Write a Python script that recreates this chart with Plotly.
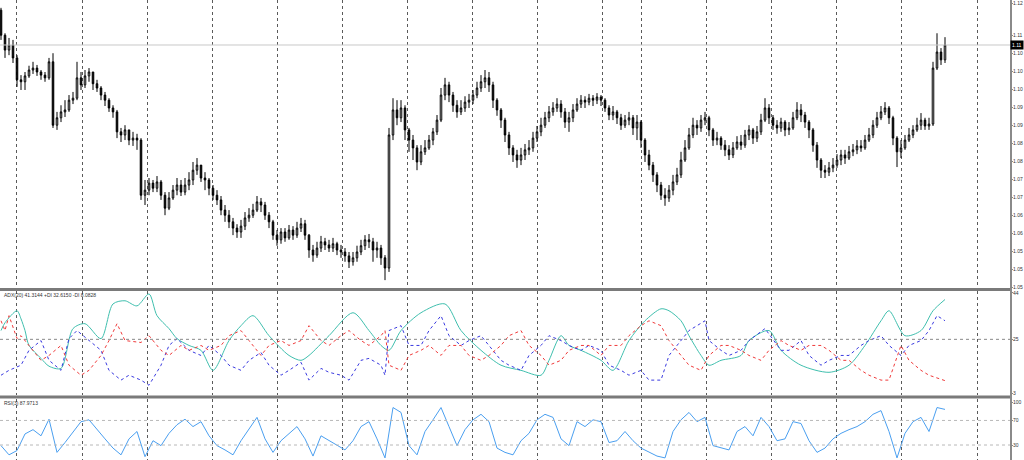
import plotly.graph_objects as go

# ---------------- data ----------------
first_open = 1.1208
close = [
1.1144, 1.1106, 1.1119, 1.1086, 1.1030, 1.1025, 1.1040, 1.1055, 1.1060, 1.1050,
1.1042, 1.1035, 1.1076, 1.0914, 1.0933, 1.0948, 1.0953, 1.0978, 1.0983, 1.1035,
1.1017, 1.1040, 1.1050, 1.1020, 1.1009, 1.0991, 1.0978, 1.0958, 1.0948, 1.0897,
1.0889, 1.0902, 1.0876, 1.0881, 1.0876, 1.0735, 1.0748, 1.0766, 1.0753, 1.0769,
1.0735, 1.0702, 1.0728, 1.0748, 1.0761, 1.0743, 1.0761, 1.0774, 1.0799, 1.0812,
1.0779, 1.0774, 1.0753, 1.0735, 1.0723, 1.0697, 1.0684, 1.0667, 1.0651, 1.0641,
1.0656, 1.0677, 1.0684, 1.0697, 1.0718, 1.0710, 1.0684, 1.0667, 1.0633, 1.0621,
1.0641, 1.0626, 1.0646, 1.0633, 1.0651, 1.0662, 1.0633, 1.0595, 1.0582, 1.0600,
1.0616, 1.0608, 1.0600, 1.0611, 1.0595, 1.0590, 1.0580, 1.0565, 1.0575, 1.0590,
1.0606, 1.0621, 1.0616, 1.0595, 1.0600, 1.0575, 1.0549, 1.0889, 1.0953, 1.0933,
1.0958, 1.0902, 1.0876, 1.0856, 1.0820, 1.0846, 1.0856, 1.0876, 1.0897, 1.0927,
1.0991, 1.1017, 1.0991, 1.0965, 1.0948, 1.0958, 1.0973, 1.0978, 1.0991, 1.1009,
1.1025, 1.1035, 1.1017, 1.0978, 1.0953, 1.0927, 1.0889, 1.0856, 1.0838, 1.0825,
1.0838, 1.0851, 1.0856, 1.0881, 1.0897, 1.0914, 1.0933, 1.0948, 1.0958, 1.0968,
1.0948, 1.0922, 1.0933, 1.0953, 1.0968, 1.0978, 1.0973, 1.0983, 1.0978, 1.0986,
1.0978, 1.0958, 1.0940, 1.0948, 1.0933, 1.0914, 1.0927, 1.0933, 1.0907, 1.0922,
1.0876, 1.0838, 1.0812, 1.0787, 1.0761, 1.0735, 1.0728, 1.0748, 1.0769, 1.0787,
1.0825, 1.0856, 1.0889, 1.0914, 1.0907, 1.0927, 1.0933, 1.0902, 1.0876, 1.0881,
1.0863, 1.0851, 1.0838, 1.0856, 1.0871, 1.0863, 1.0889, 1.0902, 1.0881, 1.0897,
1.0927, 1.0958, 1.0933, 1.0914, 1.0907, 1.0922, 1.0902, 1.0907, 1.0933, 1.0953,
1.0940, 1.0922, 1.0902, 1.0863, 1.0825, 1.0799, 1.0794, 1.0805, 1.0812, 1.0825,
1.0838, 1.0830, 1.0846, 1.0851, 1.0861, 1.0856, 1.0876, 1.0889, 1.0914, 1.0933,
1.0948, 1.0958, 1.0933, 1.0881, 1.0846, 1.0856, 1.0876, 1.0889, 1.0902, 1.0914,
1.0927, 1.0912, 1.0917, 1.1060, 1.1101, 1.1081, 1.1119]

high = [
1.1214, 1.1149, 1.1137, 1.1132, 1.1093, 1.1042, 1.1050, 1.1066, 1.1076, 1.1068,
1.1055, 1.1050, 1.1086, 1.1098, 1.0948, 1.0965, 1.0978, 1.0991, 1.0999, 1.1076,
1.1050, 1.1055, 1.1060, 1.1050, 1.1030, 1.1014, 1.0999, 1.0983, 1.0965, 1.0953,
1.0907, 1.0914, 1.0902, 1.0897, 1.0892, 1.0881, 1.0774, 1.0779, 1.0774, 1.0784,
1.0774, 1.0743, 1.0743, 1.0761, 1.0779, 1.0774, 1.0779, 1.0794, 1.0820, 1.0830,
1.0812, 1.0794, 1.0779, 1.0761, 1.0748, 1.0733, 1.0710, 1.0697, 1.0677, 1.0661,
1.0672, 1.0692, 1.0702, 1.0713, 1.0733, 1.0728, 1.0718, 1.0692, 1.0672, 1.0646,
1.0651, 1.0651, 1.0659, 1.0656, 1.0667, 1.0677, 1.0672, 1.0636, 1.0608, 1.0616,
1.0631, 1.0626, 1.0621, 1.0626, 1.0616, 1.0608, 1.0600, 1.0590, 1.0590, 1.0606,
1.0621, 1.0633, 1.0636, 1.0626, 1.0616, 1.0608, 1.0582, 1.0907, 1.0983, 1.0978,
1.0978, 1.0965, 1.0907, 1.0889, 1.0863, 1.0863, 1.0876, 1.0889, 1.0907, 1.0940,
1.1009, 1.1035, 1.1025, 1.0999, 1.0978, 1.0978, 1.0988, 1.0994, 1.1004, 1.1025,
1.1042, 1.1055, 1.1050, 1.1025, 1.0983, 1.0958, 1.0933, 1.0897, 1.0863, 1.0851,
1.0856, 1.0866, 1.0876, 1.0897, 1.0912, 1.0933, 1.0948, 1.0963, 1.0973, 1.0983,
1.0978, 1.0958, 1.0948, 1.0968, 1.0983, 1.0991, 1.0988, 1.0994, 1.0991, 1.0996,
1.0991, 1.0983, 1.0965, 1.0963, 1.0953, 1.0943, 1.0940, 1.0948, 1.0940, 1.0940,
1.0927, 1.0881, 1.0851, 1.0820, 1.0794, 1.0769, 1.0753, 1.0761, 1.0787, 1.0805,
1.0846, 1.0876, 1.0907, 1.0933, 1.0927, 1.0940, 1.0948, 1.0938, 1.0907, 1.0897,
1.0886, 1.0876, 1.0863, 1.0871, 1.0886, 1.0889, 1.0902, 1.0914, 1.0907, 1.0912,
1.0943, 1.0983, 1.0968, 1.0940, 1.0927, 1.0933, 1.0927, 1.0922, 1.0948, 1.0973,
1.0968, 1.0948, 1.0927, 1.0907, 1.0871, 1.0830, 1.0812, 1.0820, 1.0830, 1.0840,
1.0851, 1.0851, 1.0861, 1.0866, 1.0876, 1.0876, 1.0889, 1.0907, 1.0927, 1.0948,
1.0963, 1.0973, 1.0963, 1.0938, 1.0886, 1.0876, 1.0889, 1.0907, 1.0914, 1.0933,
1.0945, 1.0933, 1.0933, 1.1076, 1.1149, 1.1111, 1.1139]

low = [
1.1132, 1.1086, 1.1093, 1.1073, 1.1012, 1.1004, 1.1004, 1.1035, 1.1045, 1.1040,
1.1030, 1.1025, 1.1030, 1.0907, 1.0902, 1.0922, 1.0935, 1.0948, 1.0968, 1.0978,
1.1004, 1.1009, 1.1025, 1.1004, 1.0999, 1.0978, 1.0963, 1.0948, 1.0933, 1.0881,
1.0871, 1.0876, 1.0863, 1.0861, 1.0851, 1.0723, 1.0710, 1.0735, 1.0743, 1.0743,
1.0723, 1.0684, 1.0697, 1.0723, 1.0735, 1.0733, 1.0735, 1.0748, 1.0761, 1.0787,
1.0769, 1.0748, 1.0735, 1.0723, 1.0710, 1.0684, 1.0667, 1.0651, 1.0633, 1.0626,
1.0626, 1.0646, 1.0667, 1.0677, 1.0692, 1.0692, 1.0672, 1.0651, 1.0621, 1.0606,
1.0611, 1.0616, 1.0621, 1.0621, 1.0626, 1.0641, 1.0621, 1.0575, 1.0565, 1.0575,
1.0590, 1.0595, 1.0590, 1.0590, 1.0582, 1.0575, 1.0565, 1.0549, 1.0555, 1.0565,
1.0582, 1.0595, 1.0600, 1.0565, 1.0575, 1.0557, 1.0518, 1.0539, 1.0876, 1.0914,
1.0922, 1.0876, 1.0846, 1.0825, 1.0799, 1.0812, 1.0838, 1.0851, 1.0863, 1.0889,
1.0922, 1.0978, 1.0973, 1.0948, 1.0933, 1.0940, 1.0948, 1.0958, 1.0968, 1.0983,
1.0999, 1.1009, 1.0999, 1.0958, 1.0938, 1.0907, 1.0871, 1.0838, 1.0820, 1.0805,
1.0812, 1.0825, 1.0838, 1.0846, 1.0871, 1.0886, 1.0907, 1.0922, 1.0938, 1.0948,
1.0933, 1.0907, 1.0897, 1.0922, 1.0948, 1.0958, 1.0958, 1.0965, 1.0963, 1.0968,
1.0963, 1.0948, 1.0927, 1.0927, 1.0917, 1.0902, 1.0907, 1.0914, 1.0889, 1.0876,
1.0856, 1.0820, 1.0799, 1.0769, 1.0743, 1.0723, 1.0708, 1.0718, 1.0735, 1.0761,
1.0779, 1.0820, 1.0851, 1.0881, 1.0889, 1.0897, 1.0914, 1.0886, 1.0861, 1.0863,
1.0851, 1.0835, 1.0825, 1.0830, 1.0851, 1.0851, 1.0856, 1.0876, 1.0866, 1.0871,
1.0889, 1.0922, 1.0917, 1.0902, 1.0892, 1.0897, 1.0886, 1.0889, 1.0902, 1.0927,
1.0922, 1.0907, 1.0881, 1.0846, 1.0805, 1.0779, 1.0779, 1.0784, 1.0794, 1.0805,
1.0812, 1.0815, 1.0825, 1.0835, 1.0840, 1.0846, 1.0851, 1.0871, 1.0881, 1.0907,
1.0927, 1.0940, 1.0917, 1.0863, 1.0807, 1.0830, 1.0851, 1.0871, 1.0881, 1.0897,
1.0902, 1.0902, 1.0902, 1.0912, 1.1055, 1.1068, 1.1073]

bid_price = 1.1119
price_ticks = [1.0500, 1.0546, 1.0592, 1.0638, 1.0684, 1.0730, 1.0776, 1.0822,
               1.0868, 1.0914, 1.0960, 1.1006, 1.1052, 1.1098, 1.1144, 1.1226]

# ADX(20) main line (bar index, value)
adx_bar = [0, 1, 4, 5, 6, 7, 10, 12, 15, 18, 21, 25, 28, 31, 34, 37, 39, 42, 44, 47,
           50, 53, 57, 60, 63, 67, 72, 75, 77, 82, 88, 92, 95, 97, 100, 105, 111, 115,
           120, 125, 130, 135, 137, 140, 142, 145, 150, 153, 157, 161, 165, 167, 170,
           172, 175, 177, 180, 185, 187, 192, 195, 200, 207, 212, 216, 220, 222, 226,
           230, 233, 236]
adx_val = [28.6, 31.8, 36.7, 33.4, 28.6, 22.5, 17.2, 14.0, 13.1, 29.4, 31.4, 25.3, 39.5,
           40.8, 38.7, 43.6, 34.7, 29.4, 25.3, 22.5, 20.5, 12.3, 24.5, 30.6, 34.7, 26.5,
           18.4, 16.4, 18.4, 26.5, 35.9, 28.6, 22.5, 20.5, 28.6, 35.9, 39.5, 28.6, 20.5,
           14.4, 12.3, 10.3, 16.4, 26.5, 22.5, 20.5, 16.4, 12.3, 24.5, 32.6, 37.5, 36.7,
           32.6, 26.5, 18.4, 14.4, 16.4, 18.4, 24.5, 28.6, 20.5, 14.4, 11.5, 14.4, 22.5,
           32.6, 36.7, 26.5, 28.6, 36.7, 41.3144]

di_bar = [0, 2, 5, 7, 10, 12, 15, 17, 19, 22, 25, 27, 30, 32, 35, 37, 40, 42, 44, 47,
          50, 52, 55, 57, 60, 62, 65, 67, 70, 72, 75, 77, 80, 82, 85, 87, 90, 92, 95,
          96, 97, 100, 102, 105, 107, 110, 112, 115, 117, 120, 122, 125, 127, 130, 132,
          135, 137, 140, 142, 145, 147, 150, 152, 155, 157, 160, 162, 165, 167, 170,
          172, 176, 177, 180, 182, 185, 187, 191, 195, 197, 200, 202, 205, 207, 210,
          212, 215, 217, 220, 222, 225, 227, 230, 232, 234, 236]
plus_di = [10.3, 12.3, 14.4, 20.5, 24.5, 16.4, 12.3, 25.3, 28.6, 24.5, 20.5, 12.3, 8.3,
           10.3, 8.3, 6.2, 14.4, 22.5, 25.3, 20.5, 18.4, 22.5, 18.4, 14.4, 12.3, 16.4,
           19.6, 14.4, 10.3, 12.3, 15.6, 8.3, 13.1, 11.5, 10.3, 8.3, 16.4, 17.2, 14.4,
           10.3, 28.6, 30.6, 22.5, 22.5, 28.6, 34.7, 26.5, 22.5, 24.5, 26.5, 22.5, 16.4,
           14.4, 12.3, 18.4, 22.5, 26.5, 24.5, 22.5, 20.5, 22.5, 20.5, 14.4, 12.3, 10.3,
           12.3, 8.3, 8.3, 18.4, 24.5, 28.6, 32.6, 24.5, 20.5, 18.4, 20.5, 24.5, 29.4,
           20.5, 20.5, 24.5, 18.4, 14.4, 16.4, 18.4, 18.4, 22.5, 24.5, 26.5, 22.5, 18.4,
           22.5, 24.5, 28.6, 34.7, 32.615]

minus_bar = [0, 1, 2, 4, 5, 7, 10, 12, 15, 17, 20, 22, 25, 27, 29, 31, 35, 37, 40, 42,
             45, 47, 50, 52, 55, 57, 60, 62, 65, 67, 70, 72, 75, 77, 80, 82, 85, 87, 90,
             92, 95, 96, 97, 100, 102, 105, 107, 110, 112, 115, 117, 120, 122, 125, 127,
             130, 132, 135, 137, 140, 142, 145, 147, 150, 152, 155, 157, 160, 162, 165,
             167, 170, 172, 175, 177, 180, 182, 185, 187, 190, 192, 195, 197, 200, 202,
             205, 207, 210, 212, 215, 217, 220, 222, 225, 227, 230, 232, 236]
minus_di = [32.6, 28.6, 34.7, 25.3, 26.5, 22.5, 16.4, 18.4, 22.5, 14.4, 10.3, 12.3, 18.4,
            24.5, 31.4, 24.5, 23.7, 26.5, 20.5, 18.4, 22.5, 20.5, 22.5, 20.5, 22.5, 26.5,
            28.6, 24.5, 18.4, 22.5, 24.5, 22.5, 24.5, 30.6, 24.5, 22.5, 26.5, 28.6, 24.5,
            22.5, 26.5, 28.6, 14.4, 12.3, 18.4, 20.5, 22.5, 18.4, 22.5, 22.5, 18.4, 16.4,
            18.4, 22.5, 26.5, 28.6, 22.5, 18.4, 14.4, 16.4, 20.5, 22.5, 22.5, 18.4, 22.5,
            22.5, 26.5, 30.6, 32.6, 30.6, 24.5, 18.4, 14.4, 12.3, 18.4, 22.5, 22.5, 20.5,
            18.4, 16.4, 20.5, 24.5, 22.5, 20.5, 22.5, 22.5, 20.5, 16.4, 16.4, 12.3, 10.3,
            8.3, 8.3, 22.5, 16.4, 12.3, 10.3, 8.0828]

rsi_bar = list(range(0, 237, 2))
rsi_val = [29, 14, 21, 48, 55, 45, 72, 18, 34, 52, 68, 71, 55, 40, 25, 14, 40, 52, 11, 37,
           29, 49, 63, 72, 60, 68, 45, 29, 22, 14, 37, 55, 75, 40, 18, 37, 49, 60, 40, 12,
           45, 37, 29, 22, 37, 60, 68, 40, 9, 91, 83, 29, 14, 52, 71, 91, 60, 29, 55, 71,
           80, 68, 25, 18, 14, 37, 49, 71, 80, 75, 40, 29, 68, 60, 71, 68, 34, 37, 52, 37,
           25, 18, 12, 9, 52, 71, 83, 68, 75, 29, 25, 22, 52, 60, 45, 75, 60, 37, 40, 68,
           65, 37, 18, 25, 40, 49, 55, 60, 68, 80, 86, 52, 9, 49, 68, 75, 52, 91, 87.9713]

adx_title = "ADX(20) 41.3144 +DI 32.6150 -DI 8.0828"
rsi_title = "RSI(3) 87.9713"

# ---------------- figure ----------------
bars = list(range(len(close)))
open_ = [first_open] + close[:-1]
hi = [max(h, o, c) for h, o, c in zip(high, open_, close)]
lo = [min(l, o, c) for l, o, c in zip(low, open_, close)]

PW, PH = 1024, 460
def py(pix):  # pixel row -> paper fraction
    return (PH - pix) / PH

x_right = 1010 / PW
grid_bars = [3.75, 20.25, 36.5, 52.75, 69, 85.25, 101.5, 117.75, 134, 150.25,
             160, 176.25, 192.5, 208.75, 225, 244]

fig = go.Figure()
fig.add_trace(go.Candlestick(
    x=bars, open=open_, high=hi, low=lo, close=close,
    increasing=dict(line=dict(color="black", width=1), fillcolor="white"),
    decreasing=dict(line=dict(color="black", width=1), fillcolor="black"),
    whiskerwidth=0, xaxis="x", yaxis="y", hoverinfo="skip"))

fig.add_trace(go.Scatter(x=adx_bar, y=adx_val, mode="lines", xaxis="x2", yaxis="y2",
                         line=dict(color="#3fbfae", width=1, shape="spline", smoothing=0.8)))
fig.add_trace(go.Scatter(x=di_bar, y=plus_di, mode="lines", xaxis="x2", yaxis="y2",
                         line=dict(color="#3a3ae0", width=1, dash="dot")))
fig.add_trace(go.Scatter(x=minus_bar, y=minus_di, mode="lines", xaxis="x2", yaxis="y2",
                         line=dict(color="#f03a3a", width=1, dash="dot")))
fig.add_trace(go.Scatter(x=rsi_bar, y=rsi_val, mode="lines", xaxis="x3", yaxis="y3",
                         line=dict(color="#4a9ff0", width=1)))

tickfont = dict(family="Liberation Sans", size=5, color="#333333")
xcommon = dict(range=[-0.25, 252.25], domain=[0, x_right], showticklabels=False,
               tickmode="array", tickvals=grid_bars, showgrid=True, griddash="dot",
               gridcolor="#5a5a5a", gridwidth=1, zeroline=False, ticks="",
               showline=False, fixedrange=True)
ycommon = dict(side="right", ticks="outside", ticklen=2, tickcolor="#888888",
               tickfont=tickfont, showgrid=False, zeroline=False, showline=False,
               fixedrange=True, automargin=False, ticklabeloverflow="allow",
               ticklabelstandoff=-1)

fig.update_layout(
    width=PW, height=PH, margin=dict(l=0, r=0, t=0, b=0),
    paper_bgcolor="white", plot_bgcolor="white", showlegend=False, boxgap=0.45,
    xaxis=dict(xcommon, anchor="y", rangeslider=dict(visible=False)),
    xaxis2=dict(xcommon, anchor="y2", matches="x"),
    xaxis3=dict(xcommon, anchor="y3", matches="x"),
    yaxis=dict(ycommon, domain=[py(288), 1], range=[1.04979, 1.1234], anchor="x",
               tickmode="array", tickvals=price_ticks,
               ticktext=[f"{v:.4f}"[:4] for v in price_ticks]),
    yaxis2=dict(ycommon, domain=[py(395), py(291)], range=[2.2, 44.8], anchor="x2",
                tickmode="array", tickvals=[3, 25, 44], ticktext=["3", "25", "44"]),
    yaxis3=dict(ycommon, domain=[0, py(399)], range=[5.6, 104.9], anchor="x3",
                tickmode="array", tickvals=[30, 70, 100], ticktext=["30", "70", "100"]),
)

shapes = []
# bid line
shapes.append(dict(type="line", xref="paper", yref="y", x0=0, x1=x_right,
                   y0=bid_price, y1=bid_price, line=dict(color="#c8c8c8", width=1)))
# indicator levels
shapes.append(dict(type="line", xref="paper", yref="y2", x0=0, x1=x_right, y0=25, y1=25,
                   line=dict(color="#888888", width=1, dash="dot")))
for lv in (30, 70):
    shapes.append(dict(type="line", xref="paper", yref="y3", x0=0, x1=x_right, y0=lv, y1=lv,
                       line=dict(color="#b8b8b8", width=1, dash="dot")))
# window separators
for pix in (289.5, 397):
    shapes.append(dict(type="line", xref="paper", yref="paper", x0=0, x1=1011.5 / PW,
                       y0=py(pix), y1=py(pix), line=dict(color="#7a7a7a", width=3)))
# right scale line
shapes.append(dict(type="line", xref="paper", yref="paper", x0=1011 / PW, x1=1011 / PW,
                   y0=0, y1=1, line=dict(color="#8a8a8a", width=2)))
fig.update_layout(shapes=shapes)

fig.add_annotation(xref="paper", yref="y", x=1.0, y=bid_price, xanchor="right",
                   yanchor="middle", text=f"{bid_price:.4f}"[:4], showarrow=False,
                   bgcolor="black", font=dict(family="Liberation Sans", size=5, color="white"),
                   borderpad=1)
fig.add_annotation(xref="paper", yref="paper", x=0.002, y=py(294.5), xanchor="left",
                   yanchor="middle", text=adx_title, showarrow=False,
                   font=dict(family="Liberation Sans", size=5, color="#333333"))
fig.add_annotation(xref="paper", yref="paper", x=0.002, y=py(402.5), xanchor="left",
                   yanchor="middle", text=rsi_title, showarrow=False,
                   font=dict(family="Liberation Sans", size=5, color="#333333"))

fig.write_html(
    "out.html",
    config={"displayModeBar": False, "staticPlot": True},
    post_script="document.body.style.margin='0';document.body.style.padding='0';"
                "document.documentElement.style.overflow='hidden';")
